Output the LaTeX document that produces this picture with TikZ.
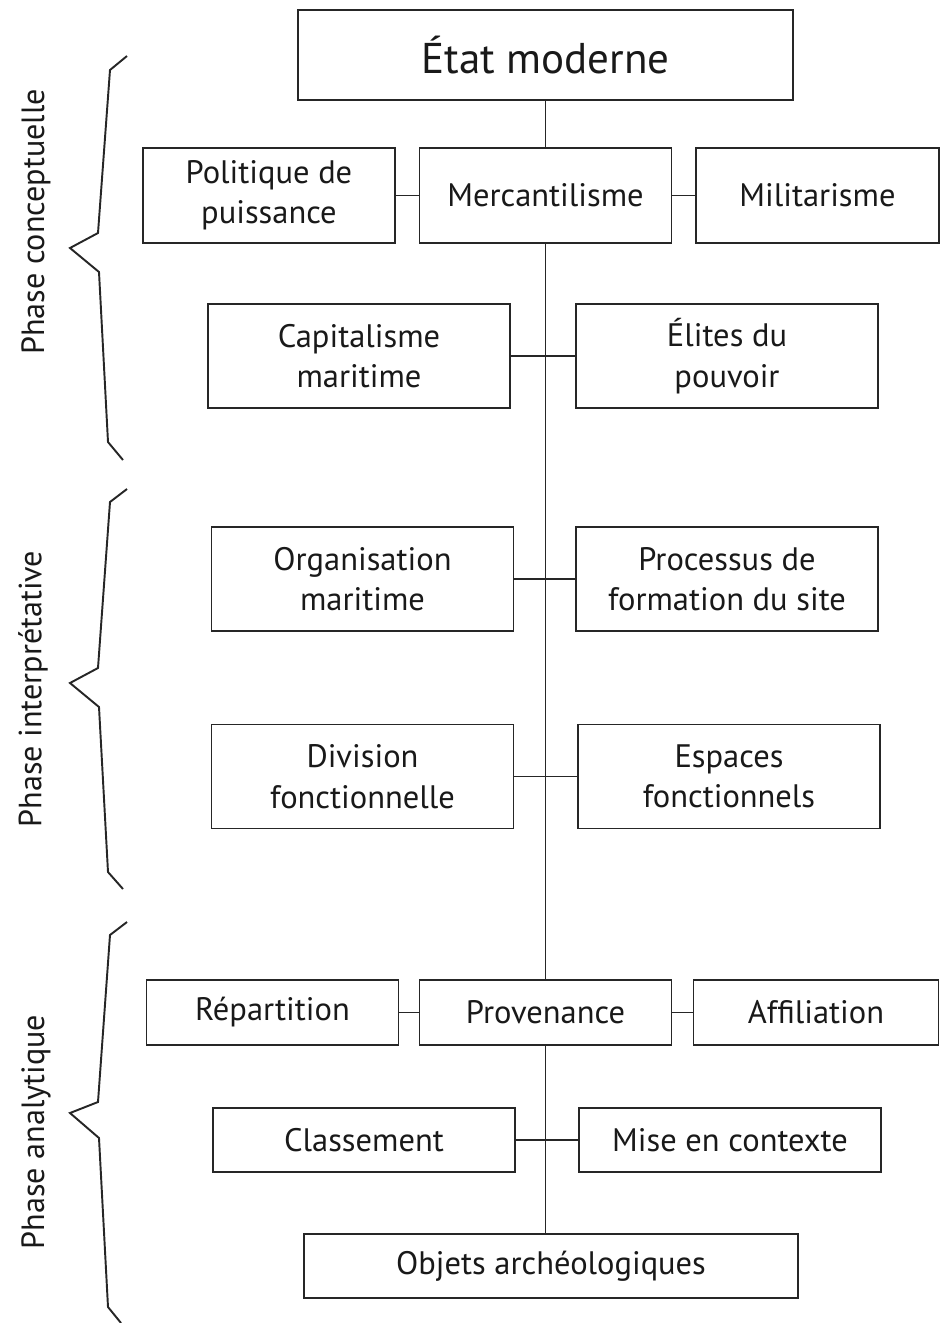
\documentclass[tikz,border=0pt]{standalone}
\usepackage{fontspec}
\setmainfont{PT Sans}
\begin{document}
\begin{tikzpicture}[x=0.02cm, y=-0.02cm,
    line width=1.1pt, draw=black!85, text=black!90,
    box/.style={draw=black!85, fill=white, align=center, inner sep=0pt,
      font=\fontsize{18.5}{23}\selectfont},
    tall/.style={box, minimum width=5.04cm, minimum height=1.9cm},
    wide/.style={box, minimum width=6.04cm, minimum height=2.08cm},
    flat/.style={box, minimum width=5.04cm, minimum height=1.3cm},
    broad/.style={box, minimum width=6.04cm, minimum height=1.28cm},
    phase/.style={rotate=90, font=\fontsize{18.3}{22}\selectfont}]

  \useasboundingbox (0,0) rectangle (940,1323);

  % Top
  \node[box, minimum width=9.9cm, minimum height=1.8cm,
    font=\fontsize{24.5}{28}\selectfont] (etat) at (545.5,55) {État moderne};

  % Conceptual phase
  \node[tall] (politique) at (269,195.5) {Politique de\\puissance};
  \node[tall] (mercant) at (545.5,195.5) {Mercantilisme};
  \node[tall, minimum width=4.86cm] (milit) at (817.5,195.5) {Militarisme};
  \node[wide] (capital) at (359,356) {Capitalisme\\maritime};
  \node[wide] (elites) at (727,356) {Élites du\\pouvoir};

  % Interpretive phase
  \node[wide] (organis) at (362.5,579) {Organisation\\maritime};
  \node[wide] (processus) at (727,579) {Processus de\\formation du site};
  \node[wide] (division) at (362.5,776.5) {Division\\fonctionnelle};
  \node[wide] (espaces) at (729,776.5) {Espaces\\fonctionnels};

  % Analytic phase
  \node[flat] (repart) at (272.5,1012.5) {Répartition};
  \node[flat] (proven) at (545.5,1012.5) {Provenance};
  \node[flat, minimum width=4.9cm] (affil) at (816,1012.5) {Affiliation};
  \node[broad] (classement) at (364,1140) {Classement};
  \node[broad] (contexte) at (730,1140) {Mise en contexte};
  \node[box, minimum width=9.88cm, minimum height=1.28cm] (objets) at (551,1266) {Objets archéologiques};

  % Spine
  \draw (etat) -- (mercant);
  \draw (mercant) -- (proven);
  \draw (proven.south) -- (proven.south |- objets.north);

  % Cross links
  \foreach \a/\b in {politique/mercant, mercant/milit, capital/elites,
      organis/processus, division/espaces, repart/proven, proven/affil,
      classement/contexte} {
    \draw (\a) -- (\b);
  }

  % Braces
  \draw (127,56) -- (110,70) -- (98,233) -- (70,248) -- (99,272) -- (108,442) -- (123,460);
  \draw (127,489) -- (110,502) -- (98,668) -- (70,683) -- (99,707) -- (108,872) -- (123,889);
  \draw (127,922) -- (110,935) -- (98,1102) -- (70,1113) -- (99,1138) -- (108,1307) -- (121,1323);

  \node[phase] (conc) at (36,222) {Phase conceptuelle};
  \node[phase] (interp) at (33,689) {Phase interprétative};
  \node[phase] (analyt) at (36,1132) {Phase analytique};
\end{tikzpicture}
\end{document}
